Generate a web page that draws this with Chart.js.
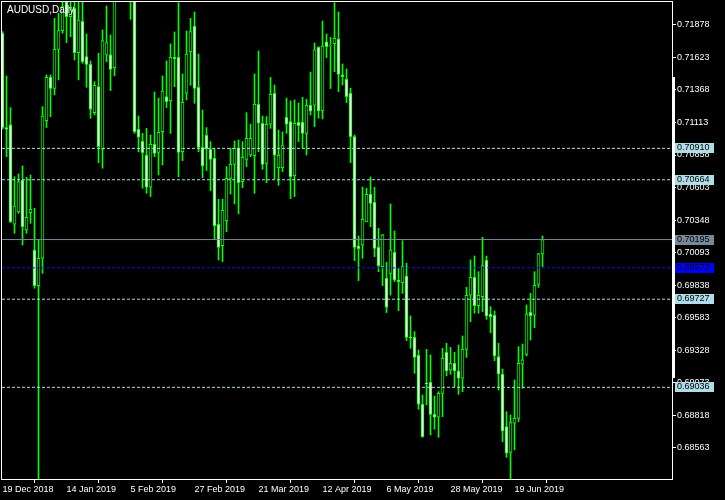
<!DOCTYPE html>
<html>
<head>
<meta charset="utf-8">
<title>AUDUSD,Daily</title>
<script src="https://cdn.jsdelivr.net/npm/chart.js@4.4.1/dist/chart.umd.min.js"></script>
<style>
  html, body { margin: 0; padding: 0; background: #000; }
  canvas { display: block; }
</style>
</head>
<body>
<canvas id="chart" width="725" height="500"></canvas>
<script>
// Bougies journalières AUDUSD, 19 Dec 2018 -> 28 Jun 2019
const openPrices = [
  0.71813, 0.71073, 0.71094, 0.70315, 0.70411, 0.70662, 0.70270, 0.70406, 0.70113, 0.69834,
  0.70048, 0.71128, 0.71467, 0.71381, 0.71687, 0.71833, 0.72061, 0.71943, 0.72009, 0.71661,
  0.71907, 0.71630, 0.71569, 0.71190, 0.71394, 0.70903, 0.71643, 0.71643, 0.71543, 0.72300,
  0.72650, 0.72250, 0.72350, 0.72400, 0.71060, 0.70966, 0.70856, 0.70605, 0.70942, 0.70879,
  0.71041, 0.71316, 0.71284, 0.71624, 0.71624, 0.70884, 0.71342, 0.71669, 0.71867, 0.71389,
  0.70918, 0.71013, 0.70903, 0.70832, 0.70315, 0.70147, 0.70343, 0.70675, 0.70785, 0.70911,
  0.70649, 0.70824, 0.70858, 0.70853, 0.71256, 0.71107, 0.70793, 0.71099, 0.71342, 0.70759,
  0.70759, 0.71154, 0.71120, 0.70696, 0.71115, 0.71115, 0.71028, 0.71248, 0.71248, 0.71703,
  0.71206, 0.71745, 0.71713, 0.71732, 0.71768, 0.71486, 0.71452, 0.71342, 0.71002, 0.70145,
  0.70152, 0.70335, 0.70550, 0.70487, 0.70134, 0.69983, 0.69891, 0.69930, 0.70095, 0.69878,
  0.69857, 0.69909, 0.69428, 0.69428, 0.69287, 0.68903, 0.69068, 0.69075, 0.68824, 0.68801,
  0.68989, 0.69311, 0.69172, 0.69224, 0.69164, 0.69107, 0.69334, 0.69758, 0.69899, 0.69677,
  0.69747, 0.70032, 0.69611, 0.69601, 0.69277, 0.69138, 0.68728, 0.68526, 0.68754, 0.68793,
  0.69217, 0.69295, 0.69624, 0.69601, 0.69844, 0.70082
];
const highPrices = [
  0.71826, 0.71478, 0.71230, 0.70688, 0.70709, 0.70772, 0.70683, 0.70701, 0.70440, 0.70197,
  0.71237, 0.71486, 0.71486, 0.71930, 0.71969, 0.72126, 0.72152, 0.72100, 0.72110, 0.72090,
  0.72087, 0.71807, 0.71596, 0.71433, 0.71656, 0.71839, 0.72027, 0.71800, 0.72350, 0.72950,
  0.72800, 0.72600, 0.72750, 0.72450, 0.71164, 0.71028, 0.71067, 0.71015, 0.71352, 0.71305,
  0.71478, 0.71596, 0.71729, 0.71823, 0.72053, 0.71494, 0.71831, 0.71930, 0.71980, 0.71650,
  0.71211, 0.71073, 0.70963, 0.70911, 0.70511, 0.70511, 0.70767, 0.70911, 0.70968, 0.70976,
  0.70963, 0.71190, 0.71101, 0.71494, 0.71674, 0.71164, 0.71159, 0.71467, 0.71407, 0.71054,
  0.71039, 0.71305, 0.71282, 0.71290, 0.71266, 0.71311, 0.71295, 0.71509, 0.71737, 0.71708,
  0.71909, 0.71807, 0.71781, 0.72053, 0.71980, 0.71572, 0.71533, 0.71381, 0.71015, 0.70223,
  0.70607, 0.70597, 0.70686, 0.70605, 0.70283, 0.70236, 0.70017, 0.70474, 0.70262, 0.69969,
  0.70186, 0.70009, 0.69596, 0.69473, 0.69329, 0.68976, 0.69334, 0.69290, 0.68968, 0.69002,
  0.69342, 0.69381, 0.69350, 0.69311, 0.69368, 0.69439, 0.69820, 0.70035, 0.70066, 0.69943,
  0.70213, 0.70066, 0.69669, 0.69635, 0.69381, 0.69180, 0.68845, 0.68819, 0.69094, 0.69355,
  0.69376, 0.69682, 0.69773, 0.69943, 0.70087, 0.70223
];
const lowPrices = [
  0.71060, 0.70845, 0.70328, 0.70244, 0.70401, 0.70152, 0.70244, 0.70322, 0.69813, 0.67150,
  0.69930, 0.71073, 0.71159, 0.71329, 0.71447, 0.71813, 0.71739, 0.71786, 0.71603, 0.71447,
  0.71577, 0.71389, 0.71146, 0.71172, 0.70798, 0.70754, 0.71590, 0.71363, 0.71478, 0.72150,
  0.72100, 0.72100, 0.71922, 0.71028, 0.70884, 0.70597, 0.70558, 0.70532, 0.70845, 0.70702,
  0.70780, 0.71230, 0.71028, 0.71394, 0.70688, 0.70814, 0.71290, 0.71405, 0.71264, 0.70884,
  0.70681, 0.70736, 0.70579, 0.70197, 0.70035, 0.70022, 0.70257, 0.70552, 0.70474, 0.70396,
  0.70602, 0.70767, 0.70845, 0.70558, 0.70884, 0.70746, 0.70641, 0.71067, 0.70670, 0.70620,
  0.70728, 0.71028, 0.70516, 0.70532, 0.70963, 0.70911, 0.70858, 0.71172, 0.71081, 0.71146,
  0.71141, 0.71622, 0.71379, 0.71512, 0.71355, 0.71407, 0.71269, 0.70798, 0.70030, 0.69873,
  0.70048, 0.70335, 0.70296, 0.70061, 0.69943, 0.69834, 0.69622, 0.69760, 0.69865, 0.69637,
  0.69773, 0.69402, 0.69342, 0.69146, 0.68864, 0.68644, 0.68898, 0.68662, 0.68707, 0.68644,
  0.68806, 0.69125, 0.69138, 0.69041, 0.68981, 0.69002, 0.69271, 0.69551, 0.69617, 0.69617,
  0.69630, 0.69569, 0.69465, 0.69245, 0.69015, 0.68610, 0.68487, 0.68320, 0.68545, 0.68767,
  0.69028, 0.69282, 0.69407, 0.69504, 0.69820, 0.69983
];
const closePrices = [
  0.71073, 0.71060, 0.70335, 0.70458, 0.70647, 0.70296, 0.70369, 0.70432, 0.69834, 0.70048,
  0.71164, 0.71467, 0.71381, 0.71687, 0.71833, 0.72022, 0.71943, 0.72016, 0.71661, 0.71917,
  0.71590, 0.71569, 0.71217, 0.71405, 0.70924, 0.71755, 0.71739, 0.71530, 0.72300, 0.72650,
  0.72250, 0.72400, 0.72400, 0.71041, 0.70997, 0.70877, 0.70605, 0.70942, 0.70871, 0.71036,
  0.71360, 0.71277, 0.71624, 0.71614, 0.70879, 0.71271, 0.71650, 0.71826, 0.71381, 0.70918,
  0.70772, 0.70905, 0.70824, 0.70304, 0.70134, 0.70424, 0.70675, 0.70785, 0.70911, 0.70641,
  0.70840, 0.70989, 0.70989, 0.71256, 0.71107, 0.70785, 0.71099, 0.71334, 0.70856, 0.70856,
  0.70932, 0.71099, 0.70688, 0.71107, 0.71088, 0.71028, 0.71248, 0.71201, 0.71682, 0.71203,
  0.71713, 0.71708, 0.71718, 0.71773, 0.71491, 0.71473, 0.71316, 0.71002, 0.70134, 0.70124,
  0.70354, 0.70550, 0.70479, 0.70126, 0.69990, 0.70231, 0.69664, 0.70113, 0.69878, 0.69865,
  0.69983, 0.69428, 0.69426, 0.69271, 0.68903, 0.68649, 0.69062, 0.68824, 0.68801, 0.68989,
  0.69264, 0.69164, 0.69224, 0.69164, 0.69107, 0.69334, 0.69758, 0.69899, 0.69677, 0.69758,
  0.69990, 0.69596, 0.69590, 0.69282, 0.69141, 0.68694, 0.68519, 0.68759, 0.68793, 0.69224,
  0.69251, 0.69611, 0.69598, 0.69836, 0.70082, 0.70195
];

// Axe du temps : une étiquette toutes les 16 bougies
const dateLabels = ['19 Dec 2018', '14 Jan 2019', '5 Feb 2019', '27 Feb 2019', '21 Mar 2019',
                    '12 Apr 2019', '6 May 2019', '28 May 2019', '19 Jun 2019'];
const barsPerLabel = 16;

// Axe des prix
const priceTicks = [0.71878, 0.71623, 0.71368, 0.71113, 0.70858, 0.70603, 0.70348,
                    0.70093, 0.69838, 0.69583, 0.69328, 0.69073, 0.68818, 0.68563];
const priceMin = 0.68317;
const priceMax = 0.72058;

// Lignes horizontales
const dashedLevels = [0.70910, 0.70664, 0.69727, 0.69036];
const bidPrice = 0.70195;
const bluePrice = 0.69973;

const xMin = -0.125;
const xMax = xMin + 670 / 4;
const lime = '#00ff00';
const tickFont = { family: 'Liberation Sans, Arial, sans-serif', size: 9 };

function levelLine(value, color, dash) {
    return {
        type: 'line',
        data: [{ x: xMin, y: value }, { x: xMax, y: value }],
        borderColor: color,
        borderWidth: 1,
        borderDash: dash,
        pointRadius: 0,
        order: 0
    };
}

const bodies = openPrices.map((o, i) => ({ x: i, y: [o, closePrices[i]] }));
const wicks = lowPrices.map((l, i) => ({ x: i, y: [l, highPrices[i]] }));

const datasets = [
    {
        type: 'bar',
        data: bodies,
        backgroundColor: openPrices.map((o, i) => closePrices[i] < o ? '#ffffff' : '#000000'),
        borderColor: lime,
        borderWidth: 1,
        borderSkipped: false,
        barThickness: 3,
        grouped: false,
        order: 1
    },
    {
        type: 'bar',
        data: wicks,
        backgroundColor: lime,
        borderWidth: 0,
        barThickness: 1,
        grouped: false,
        order: 2
    }
];
dashedLevels.forEach(v => datasets.push(levelLine(v, '#b0dce8', [3, 2])));
datasets.push(levelLine(bidPrice, '#778899', []));
datasets.push(levelLine(bluePrice, '#1010ff', [3, 2]));

// Décor : cadre, titre, étiquettes des niveaux
const decor = {
    id: 'decor',
    beforeDraw(chart) {
        const c = chart.ctx;
        c.save();
        c.fillStyle = '#000';
        c.fillRect(0, 0, chart.width, chart.height);
        c.restore();
    },
    afterDraw(chart) {
        const c = chart.ctx;
        const a = chart.chartArea;
        const y = chart.scales.y;
        c.save();
        c.strokeStyle = '#fff';
        c.lineWidth = 1;
        c.strokeRect(a.left - 0.5, a.top - 0.5, a.right - a.left + 1, a.bottom - a.top + 1);
        c.fillStyle = '#fff';
        c.fillRect(a.right, 77, 3, 301);

        c.font = '10px Liberation Sans, Arial, sans-serif';
        c.textBaseline = 'middle';
        c.fillText('AUDUSD,Daily', 7, 10);

        const boxes = dashedLevels.map(v => [v, '#b0dce8'])
            .concat([[bidPrice, '#778899'], [bluePrice, '#0000ff']]);
        c.font = '9px Liberation Sans, Arial, sans-serif';
        boxes.forEach(([v, bg]) => {
            const py = Math.round(y.getPixelForValue(v));
            c.fillStyle = bg;
            c.fillRect(a.right + 3, py - 5, 39, 10);
            c.fillStyle = '#000';
            c.fillText(v.toFixed(5), a.right + 5, py);
        });
        c.restore();
    }
};

const chart = new Chart(document.getElementById('chart'), {
    type: 'bar',
    data: { datasets: datasets },
    options: {
        responsive: false,
        animation: false,
        devicePixelRatio: 1,
        layout: { padding: { top: 2, left: 2, right: 0, bottom: 0 } },
        plugins: { legend: { display: false }, tooltip: { enabled: false } },
        scales: {
            x: {
                type: 'linear',
                min: xMin,
                max: xMax,
                offset: false,
                grid: { drawOnChartArea: false, color: '#fff', tickLength: 4 },
                border: { color: '#fff' },
                ticks: {
                    color: '#fff',
                    font: tickFont,
                    align: 'start',
                    maxRotation: 0,
                    autoSkip: false,
                    padding: 1,
                    callback: v => dateLabels[v / barsPerLabel] || ''
                },
                afterBuildTicks: s => { s.ticks = dateLabels.map((d, i) => ({ value: i * barsPerLabel })); },
                afterFit: s => { s.height = 21; s.paddingLeft = 0; s.paddingRight = 0; }
            },
            y: {
                position: 'right',
                min: priceMin,
                max: priceMax,
                grid: { drawOnChartArea: false, color: '#fff', tickLength: 4 },
                border: { color: '#fff' },
                ticks: {
                    color: '#fff',
                    font: tickFont,
                    padding: 1,
                    callback: v => v.toFixed(5)
                },
                afterBuildTicks: s => { s.ticks = priceTicks.map(v => ({ value: v })); },
                afterFit: s => { s.width = 53; s.paddingTop = 0; s.paddingBottom = 0; }
            }
        }
    },
    plugins: [decor]
});
</script>
</body>
</html>
